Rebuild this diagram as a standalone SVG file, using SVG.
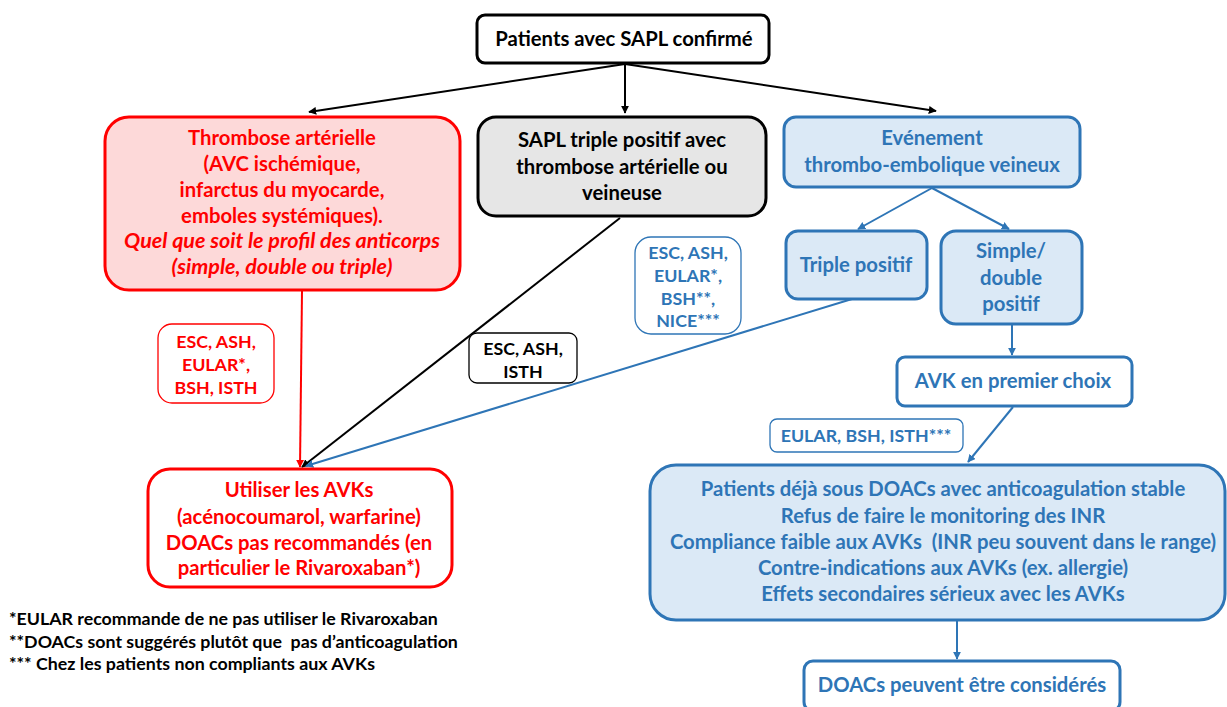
<svg xmlns="http://www.w3.org/2000/svg" width="1227" height="707" viewBox="0 0 1227 707">
<defs>
<marker id="ak" viewBox="0 0 10 10" refX="9" refY="5" markerWidth="8" markerHeight="8" markerUnits="userSpaceOnUse" orient="auto"><path d="M0,0 L10,5 L0,10 z" fill="#000"/></marker>
<marker id="ar" viewBox="0 0 10 10" refX="9" refY="5" markerWidth="8" markerHeight="8" markerUnits="userSpaceOnUse" orient="auto"><path d="M0,0 L10,5 L0,10 z" fill="#ff0000"/></marker>
<marker id="ab" viewBox="0 0 10 10" refX="9" refY="5" markerWidth="8" markerHeight="8" markerUnits="userSpaceOnUse" orient="auto"><path d="M0,0 L10,5 L0,10 z" fill="#2e75b6"/></marker>
</defs>
<style>
text{font-family:Lato,"Liberation Sans",sans-serif;font-weight:bold;font-size:20.3px;text-anchor:middle}
.k{fill:#000}.r{fill:#ff0000}.b{fill:#2e75b6}
.it{font-style:italic;font-size:21.5px}
.lbl{font-size:17.8px}
.fn{font-size:17.8px;text-anchor:start}
.bx{stroke-width:3}
</style>
<rect width="1227" height="707" fill="#fff"/>
<g id="connectors" fill="none" stroke-width="2">
<line x1="625" y1="64" x2="309" y2="112" stroke="#000" marker-end="url(#ak)"/>
<line x1="625" y1="64" x2="625" y2="113" stroke="#000" marker-end="url(#ak)"/>
<line x1="625" y1="64" x2="936" y2="111" stroke="#000" marker-end="url(#ak)"/>
<line x1="302" y1="291" x2="300" y2="467" stroke="#ff0000" marker-end="url(#ar)"/>
<line x1="620" y1="218" x2="302" y2="467" stroke="#000" marker-end="url(#ak)"/>
<line x1="852" y1="299" x2="306" y2="466" stroke="#2e75b6" marker-end="url(#ab)"/>
<line x1="932" y1="188" x2="858" y2="229" stroke="#2e75b6" marker-end="url(#ab)"/>
<line x1="932" y1="188" x2="1009" y2="229" stroke="#2e75b6" marker-end="url(#ab)"/>
<line x1="1012" y1="325" x2="1012" y2="355" stroke="#2e75b6" marker-end="url(#ab)"/>
<line x1="1013" y1="407" x2="968" y2="462" stroke="#2e75b6" marker-end="url(#ab)"/>
<line x1="957" y1="621" x2="957" y2="659" stroke="#2e75b6" marker-end="url(#ab)"/>
</g>
<g id="n-top">
<rect class="bx" x="477" y="15" width="292" height="48" rx="8" fill="#fff" stroke="#000"/>
<text class="k" x="624" y="46">Patients avec SAPL confirmé</text>
</g>
<g id="n-arterial">
<rect class="bx" x="105" y="117" width="355" height="173" rx="24" fill="#fdd9d9" stroke="#ff0000"/>
<text class="r" x="282" y="145">Thrombose artérielle</text>
<text class="r" x="282" y="171">(AVC ischémique,</text>
<text class="r" x="282" y="197">infarctus du myocarde,</text>
<text class="r" x="282" y="223">emboles systémiques).</text>
<text class="r it" x="282" y="248">Quel que soit le profil des anticorps</text>
<text class="r it" x="282" y="274">(simple, double ou triple)</text>
</g>
<g id="n-triple-sapl">
<rect class="bx" x="478" y="117" width="288" height="99" rx="18" fill="#e6e6e6" stroke="#000"/>
<text class="k" x="622" y="147">SAPL triple positif avec</text>
<text class="k" x="622" y="174">thrombose artérielle ou</text>
<text class="k" x="622" y="200">veineuse</text>
</g>
<g id="n-veineux">
<rect class="bx" x="784" y="117" width="296" height="70" rx="12" fill="#dbe9f6" stroke="#2e75b6"/>
<text class="b" x="932" y="145">Evénement</text>
<text class="b" x="932" y="172">thrombo-embolique veineux</text>
</g>
<g id="n-triple">
<rect class="bx" x="786" y="231" width="141" height="68" rx="12" fill="#dbe9f6" stroke="#2e75b6"/>
<text class="b" x="856" y="272">Triple positif</text>
</g>
<g id="n-simple">
<rect class="bx" x="941" y="231" width="141" height="93" rx="15" fill="#dbe9f6" stroke="#2e75b6"/>
<text class="b" x="1011" y="258">Simple/</text>
<text class="b" x="1011" y="285">double</text>
<text class="b" x="1011" y="311">positif</text>
</g>
<g id="n-avk">
<rect class="bx" x="897" y="357" width="235" height="49" rx="8" fill="#fff" stroke="#2e75b6"/>
<text class="b" x="1013" y="388">AVK en premier choix</text>
</g>
<g id="lbl-eular">
<rect x="770" y="419" width="193" height="33" rx="7" fill="#fff" stroke="#2e75b6" stroke-width="1.3"/>
<text class="b lbl" x="866" y="442">EULAR, BSH, ISTH***</text>
</g>
<g id="lbl-blue">
<rect x="635" y="237" width="106" height="97" rx="16" fill="#fff" stroke="#2e75b6" stroke-width="1.3"/>
<text class="b lbl" x="688" y="259">ESC, ASH,</text>
<text class="b lbl" x="688" y="282">EULAR*,</text>
<text class="b lbl" x="688" y="305">BSH**,</text>
<text class="b lbl" x="688" y="327">NICE***</text>
</g>
<g id="lbl-red">
<rect x="158" y="324" width="116" height="79" rx="14" fill="#fff" stroke="#ff0000" stroke-width="1.3"/>
<text class="r lbl" x="216" y="348">ESC, ASH,</text>
<text class="r lbl" x="216" y="371">EULAR*,</text>
<text class="r lbl" x="216" y="394">BSH, ISTH</text>
</g>
<g id="lbl-black">
<rect x="469" y="333" width="108" height="50" rx="8" fill="#fff" stroke="#000" stroke-width="1.3"/>
<text class="k lbl" x="523" y="355">ESC, ASH,</text>
<text class="k lbl" x="523" y="378">ISTH</text>
</g>
<g id="n-utiliser">
<rect class="bx" x="148" y="469" width="304" height="118" rx="22" fill="#fff" stroke="#ff0000"/>
<text class="r" x="299" y="497">Utiliser les AVKs</text>
<text class="r" x="299" y="524">(acénocoumarol, warfarine)</text>
<text class="r" x="299" y="550">DOACs pas recommandés (en</text>
<text class="r" x="299" y="575">particulier le Rivaroxaban*)</text>
</g>
<g id="n-conditions">
<rect class="bx" x="650" y="465" width="575" height="155" rx="26" fill="#dbe9f6" stroke="#2e75b6"/>
<text class="b" x="943" y="496">Patients déjà sous DOACs avec anticoagulation stable</text>
<text class="b" x="943" y="523">Refus de faire le monitoring des INR</text>
<text class="b" x="943" y="549" xml:space="preserve">Compliance faible aux AVKs  (INR peu souvent dans le range)</text>
<text class="b" x="943" y="575">Contre-indications aux AVKs (ex. allergie)</text>
<text class="b" x="943" y="601">Effets secondaires sérieux avec les AVKs</text>
</g>
<g id="n-doacs">
<rect class="bx" x="804" y="661" width="316" height="50" rx="9" fill="#fff" stroke="#2e75b6"/>
<text class="b" x="962" y="692">DOACs peuvent être considérés</text>
</g>
<g id="footnotes">
<text class="k fn" x="9" y="625">*EULAR recommande de ne pas utiliser le Rivaroxaban</text>
<text class="k fn" x="9" y="648" xml:space="preserve">**DOACs sont suggérés plutôt que  pas d’anticoagulation</text>
<text class="k fn" x="9" y="670">*** Chez les patients non compliants aux AVKs</text>
</g>
</svg>
